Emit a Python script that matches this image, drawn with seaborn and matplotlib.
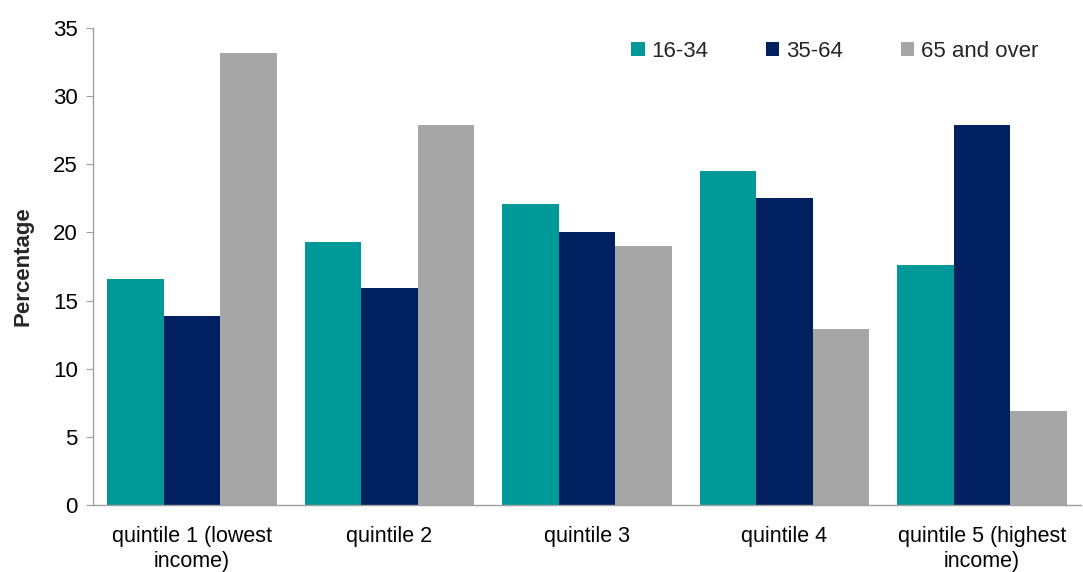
import pandas as pd
import matplotlib.pyplot as plt
import seaborn as sns

# 数据
quintiles = ['quintile 1 (lowest\nincome)', 'quintile 2', 'quintile 3',
             'quintile 4', 'quintile 5 (highest\nincome)']
age_groups = ['16-34', '35-64', '65 and over']
pct_16_34 = [16.6, 19.3, 22.1, 24.5, 17.6]
pct_35_64 = [13.9, 15.9, 20.0, 22.5, 27.9]
pct_65_over = [33.2, 27.9, 19.0, 12.9, 6.9]
colors = ['#009999', '#002060', '#A6A6A6']

df = pd.DataFrame({
    'quintile': quintiles * 3,
    'age': [age_groups[0]] * 5 + [age_groups[1]] * 5 + [age_groups[2]] * 5,
    'pct': pct_16_34 + pct_35_64 + pct_65_over,
})

sns.set_style('white')
plt.rcParams['font.family'] = ['Liberation Sans', 'DejaVu Sans']

fig = plt.figure(figsize=(10.83, 5.72), dpi=100)
ax = fig.add_axes([0.086, 0.117, 0.912, 0.834])

sns.barplot(data=df, x='quintile', y='pct', hue='age', hue_order=age_groups,
            palette=colors, width=0.86, gap=0, saturation=1, linewidth=0, ax=ax)

ax.set_ylim(0, 35)
ax.set_xlim(-0.5, 4.5)
ax.set_yticks(range(0, 36, 5))
ax.set_xlabel('')
ax.set_ylabel('Percentage', fontsize=16, fontweight='bold', labelpad=14)
ax.tick_params(axis='y', labelsize=16, length=5, color='#A0A0A0', direction='out',
               left=True, labelcolor='black', pad=6)
ax.tick_params(axis='x', labelsize=15.5, length=0, pad=15, labelcolor='black')
for lbl in ax.get_xticklabels():
    lbl.set_linespacing(1.25)

for s in ['top', 'right']:
    ax.spines[s].set_visible(False)
for s in ['left', 'bottom']:
    ax.spines[s].set_color('#A0A0A0')
    ax.spines[s].set_linewidth(1)

ax.legend(loc='upper right', ncol=3, frameon=False, fontsize=16,
          handlelength=0.6, handleheight=0.6, handletextpad=0.3,
          columnspacing=2.6, bbox_to_anchor=(0.977, 1.015))

fig.savefig('out.png', dpi=100)
